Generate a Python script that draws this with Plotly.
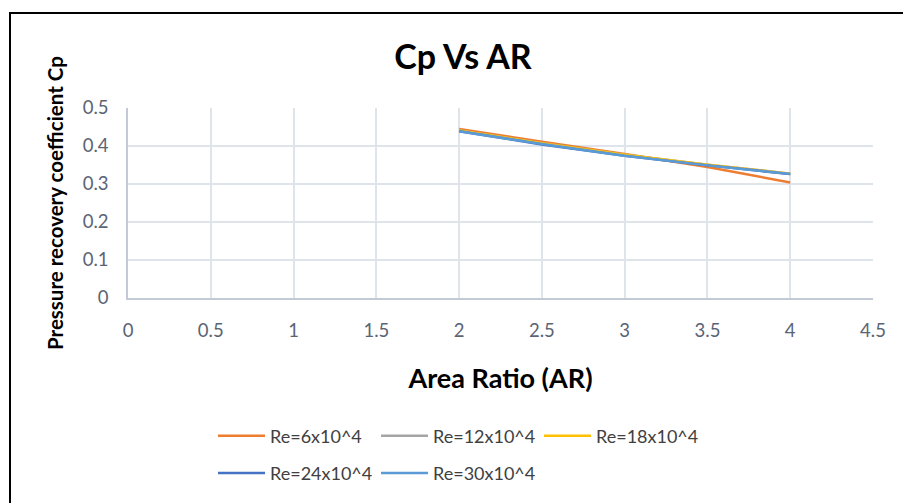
import plotly.graph_objects as go

AR = [2, 2.5, 3, 3.5, 4]
names = ["Re=6x10^4", "Re=12x10^4", "Re=18x10^4", "Re=24x10^4", "Re=30x10^4"]
re6 = [0.445, 0.411, 0.379, 0.345, 0.304]
re12 = [0.441, 0.407, 0.377, 0.351, 0.327]
re18 = [0.441, 0.407, 0.377, 0.351, 0.327]
re24 = [0.439, 0.404, 0.374, 0.349, 0.326]
re30 = [0.439, 0.405, 0.3745, 0.349, 0.3265]
series = [re6, re12, re18, re24, re30]
colors = ["#ED7D31", "#A5A5A5", "#FFC000", "#4472C4", "#5B9BD5"]
legend_ids = ["legend", "legend", "legend", "legend2", "legend2"]

W, H = 903, 503
L, R, T, B = 128, 873, 108, 302

def px(x):
    return (x - L) / (R - L)

def py(y):
    return (B - y) / (B - T)

fig = go.Figure()
for n, s, c, lg in zip(names, series, colors, legend_ids):
    fig.add_trace(go.Scatter(x=AR, y=s, mode="lines", name=n,
                             line=dict(color=c, width=2.5), legend=lg))

font = "Lato, 'Open Sans', sans-serif"
grid = "#dfe3ea"
axisc = "#c3cad6"
tickc = "#5a6474"

leg_common = dict(orientation="h", xanchor="left", yanchor="top",
                  font=dict(size=18, color="#404040"), entrywidth=101, entrywidthmode="pixels",
                  itemwidth=47, bgcolor="rgba(0,0,0,0)", traceorder="normal")

fig.update_layout(
    width=W, height=H,
    margin=dict(l=L, r=W - R, t=T, b=H - B),
    paper_bgcolor="white", plot_bgcolor="white",
    font=dict(family=font, color="#404040"),
    title=dict(text="<b>Cp Vs AR</b>", x=px(463), xref="paper", xanchor="center",
               y=1 - 57 / H, yref="container", yanchor="middle",
               font=dict(size=34, color="#000000", family=font)),
    xaxis=dict(range=[0, 4.5], dtick=0.5, tick0=0, showgrid=True, gridcolor=grid, gridwidth=1.5,
               showline=True, linecolor=axisc, linewidth=1.5, zeroline=False,
               tickfont=dict(size=18.5, color=tickc), ticks="", ticklabelstandoff=15,
               title=dict(text="<b>Area Ratio (AR)</b>", font=dict(size=27, color="#000"), standoff=29)),
    yaxis=dict(range=[0, 0.5], dtick=0.1, tick0=0, showgrid=True, gridcolor=grid, gridwidth=1.5,
               showline=True, linecolor=axisc, linewidth=1.5, zeroline=False,
               tickfont=dict(size=18.5, color=tickc), ticks="", ticklabelstandoff=14,
               title=dict(text="<b>Pressure recovery coefficient Cp</b>", font=dict(size=20.5, color="#000"), standoff=14)),
    legend=dict(x=px(213), y=py(424), **leg_common),
    legend2=dict(x=px(213), y=py(462), **leg_common),
    shapes=[dict(type="rect", xref="paper", yref="paper",
                 x0=px(10), x1=px(950), y0=py(560), y1=py(11),
                 line=dict(color="#000000", width=2), fillcolor="rgba(0,0,0,0)", layer="above")],
)

fig.write_html("out.html")
